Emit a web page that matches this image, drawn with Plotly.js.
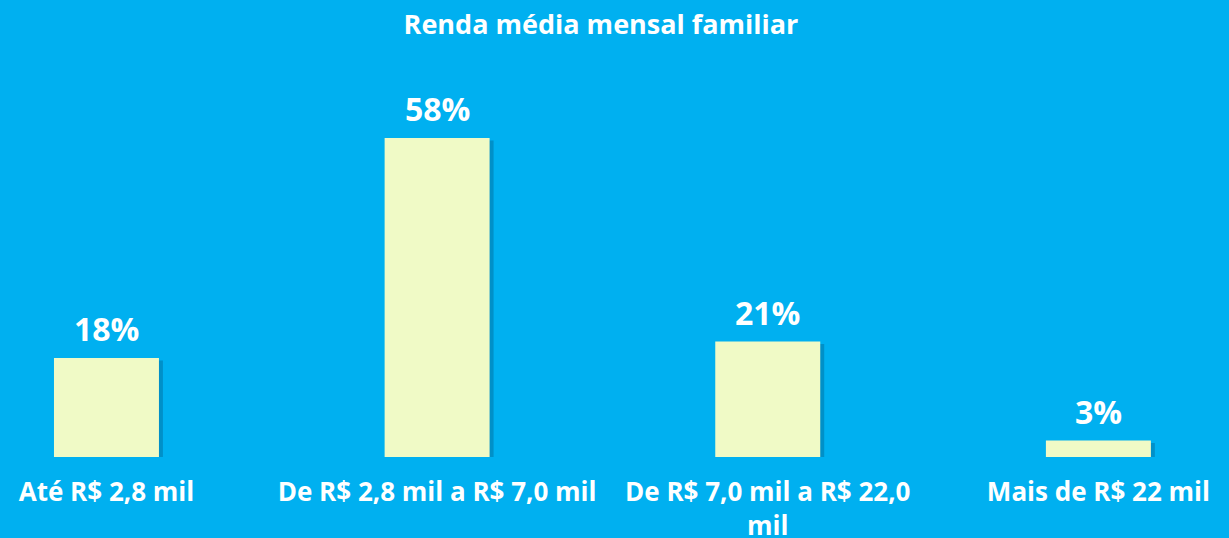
<!DOCTYPE html>
<html>
<head>
<meta charset="utf-8">
<script src="https://cdn.plot.ly/plotly-3.0.1.min.js"></script>
<style>html,body{margin:0;padding:0;background:#00B0F0;}#chart{width:1229px;height:538px;}</style>
</head>
<body>
<div id="chart"></div>
<script>
const categories = ["Até R$ 2,8 mil", "De R$ 2,8 mil a R$ 7,0 mil", "De R$ 7,0 mil a R$ 22,0<br>mil", "Mais de R$ 22 mil"];
const values = [18, 58, 21, 3];
const valueLabels = ["18%", "58%", "21%", "3%"];

const idx = categories.map((_, i) => i);
const barWidth = 0.3175;
const FONT = "'Open Sans', 'Noto Sans', sans-serif";

const shadow = {
  type: 'bar', x: idx, y: values, base: -0.45,
  width: barWidth, offset: -barWidth / 2 + 0.012,
  marker: {color: 'rgba(0,70,110,0.3)', line: {width: 0}},
  hoverinfo: 'skip', showlegend: false
};
const bars = {
  type: 'bar', x: idx, y: values,
  width: barWidth,
  marker: {color: '#F0FAC6', line: {width: 0}},
  hoverinfo: 'skip', showlegend: false
};

const annotations = idx.map(i => ({
  x: i, y: values[i], xref: 'x', yref: 'y',
  text: '<b>' + valueLabels[i] + '</b>', showarrow: false,
  yanchor: 'bottom', yshift: 6,
  font: {family: FONT, size: 32, color: '#FFFFFF'}
}));

const layout = {
  width: 1229, height: 538,
  paper_bgcolor: '#00B0F0', plot_bgcolor: '#00B0F0',
  margin: {l: 0, r: 0, t: 60, b: 81},
  barmode: 'overlay',
  title: {text: '<b>Renda média mensal familiar</b>', x: 0.489, xanchor: 'center', y: 0.955, yanchor: 'middle',
          font: {family: FONT, size: 27, color: '#FFFFFF'}},
  xaxis: {
    range: [-0.322, 3.395], tickmode: 'array', tickvals: idx,
    ticktext: categories.map(c => '<b>' + c.replace('<br>', '</b><br><b>') + '</b>'),
    tickfont: {family: FONT, size: 26, color: '#FFFFFF'},
    showgrid: false, zeroline: false, showline: false, ticks: '', ticklabelstandoff: 17
  },
  yaxis: {range: [0, 72.2], visible: false, showgrid: false, zeroline: false},
  annotations: annotations,
  hovermode: false
};

Plotly.newPlot('chart', [shadow, bars], layout, {displayModeBar: false, staticPlot: true});
</script>
</body>
</html>
